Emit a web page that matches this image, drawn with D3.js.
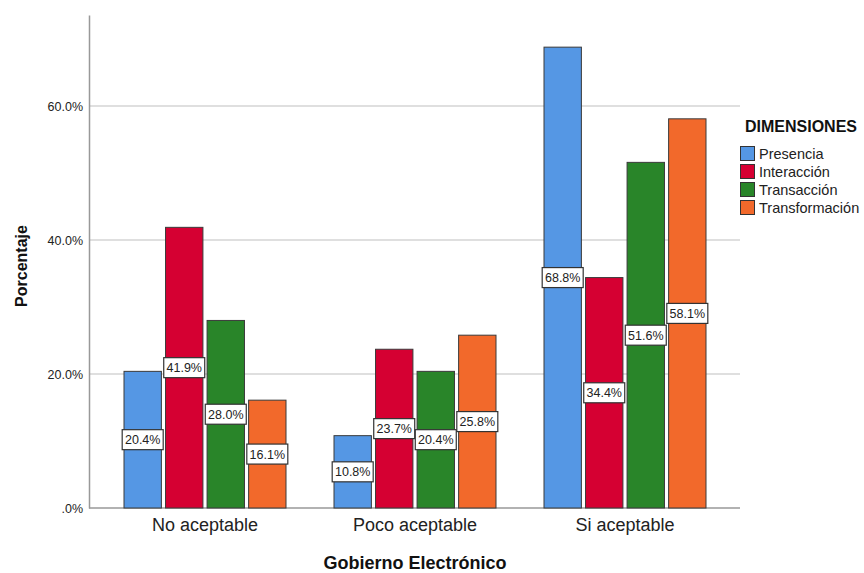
<!DOCTYPE html>
<html>
<head>
<meta charset="utf-8">
<script src="https://cdn.jsdelivr.net/npm/d3@7"></script>
<style>
  html, body { margin: 0; padding: 0; background: #fff; }
  svg { display: block; font-family: Arial, "Liberation Sans", sans-serif; }
</style>
</head>
<body>
<svg id="chart" width="864" height="573"></svg>
<script>
// Categories on the x axis
const categories = ["No aceptable", "Poco aceptable", "Si aceptable"];
// Series (legend entries)
const seriesNames = ["Presencia", "Interacción", "Transacción", "Transformación"];
// Percent values per series, in category order
const presencia      = [20.4, 10.8, 68.8];
const interaccion    = [41.9, 23.7, 34.4];
const transaccion    = [28.0, 20.4, 51.6];
const transformacion = [16.1, 25.8, 58.1];
const seriesValues = [presencia, interaccion, transaccion, transformacion];
// Y tick values
const yTicks = [0, 20, 40, 60];
const colors = ["#5597E4", "#D50032", "#298529", "#F2692B"];

const svg = d3.select("#chart");

const x0 = d3.scaleBand().domain(categories).range([100, 730]).paddingInner(0).paddingOuter(0);
const x1 = d3.scaleBand().domain(seriesNames).range([24, 186]).paddingInner(0.1).paddingOuter(0);
const y = d3.scaleLinear().domain([0, 73.6]).range([508, 15]);

// gridlines
svg.append("g")
  .selectAll("line")
  .data(yTicks.filter(d => d > 0))
  .join("line")
  .attr("x1", 89).attr("x2", 740)
  .attr("y1", d => y(d)).attr("y2", d => y(d))
  .attr("stroke", "#d4d4d4").attr("stroke-width", 1.5);

// y axis
const yAxis = d3.axisLeft(y).tickValues(yTicks).tickSize(0).tickPadding(6)
  .tickFormat(d => d === 0 ? ".0%" : d3.format(".1f")(d) + "%");
const gy = svg.append("g").attr("transform", "translate(89,0)").call(yAxis);
gy.select(".domain").attr("stroke", "#999").attr("stroke-width", 1.5);
gy.selectAll("text").attr("font-size", 12.5).attr("fill", "#222")
  .attr("font-family", "Arial, 'Liberation Sans', sans-serif");

// x axis baseline
svg.append("line").attr("x1", 89).attr("x2", 740).attr("y1", y(0)).attr("y2", y(0))
  .attr("stroke", "#999").attr("stroke-width", 1.5);

const xAxis = d3.axisBottom(x0).tickSize(0).tickPadding(10);
const gx = svg.append("g").attr("transform", `translate(0,${y(0)})`).call(xAxis);
gx.select(".domain").remove();
gx.selectAll("text").attr("font-size", 18).attr("fill", "#222")
  .attr("font-family", "Arial, 'Liberation Sans', sans-serif");

// bars
const groups = svg.append("g").selectAll("g")
  .data(categories)
  .join("g")
  .attr("transform", d => `translate(${x0(d)},0)`);

groups.selectAll("rect")
  .data((c, i) => seriesNames.map((s, j) => ({ s, j, v: seriesValues[j][i] })))
  .join("rect")
  .attr("x", d => x1(d.s))
  .attr("width", x1.bandwidth())
  .attr("y", d => y(d.v))
  .attr("height", d => y(0) - y(d.v))
  .attr("fill", d => colors[d.j])
  .attr("stroke", "#3a3a3a").attr("stroke-width", 1);

// value labels
const lbl = groups.selectAll("g.lbl")
  .data((c, i) => seriesNames.map((s, j) => ({ s, j, v: seriesValues[j][i] })))
  .join("g").attr("class", "lbl")
  .attr("transform", d => `translate(${x1(d.s) + x1.bandwidth() / 2},${y(d.v / 2)})`);
lbl.append("rect")
  .attr("x", -20.5).attr("y", -10).attr("width", 41).attr("height", 20)
  .attr("fill", "#fff").attr("stroke", "#333").attr("stroke-width", 1.2);
lbl.append("text")
  .attr("text-anchor", "middle").attr("dy", "0.36em")
  .attr("font-size", 12.5).attr("fill", "#222")
  .text(d => d3.format(".1f")(d.v) + "%");

// axis titles
svg.append("text")
  .attr("transform", "translate(27,266) rotate(-90)")
  .attr("text-anchor", "middle")
  .attr("font-size", 16).attr("font-weight", "bold").attr("fill", "#111")
  .text("Porcentaje");
svg.append("text")
  .attr("x", 415).attr("y", 569)
  .attr("text-anchor", "middle")
  .attr("font-size", 18).attr("font-weight", "bold").attr("fill", "#111")
  .text("Gobierno Electrónico");

// legend
const legend = svg.append("g").attr("transform", "translate(740,0)");
legend.append("text").attr("x", 5).attr("y", 132)
  .attr("font-size", 16).attr("font-weight", "bold").attr("fill", "#111")
  .text("DIMENSIONES");
const li = legend.selectAll("g.item").data(seriesNames).join("g").attr("class", "item")
  .attr("transform", (d, i) => `translate(0,${146 + i * 18})`);
li.append("rect").attr("x", 0.5).attr("y", 0.5).attr("width", 14).attr("height", 14)
  .attr("fill", (d, i) => colors[i]).attr("stroke", "#333").attr("stroke-width", 1);
li.append("text").attr("x", 19).attr("y", 12.5)
  .attr("font-size", 14.5).attr("fill", "#222")
  .text(d => d);
</script>
</body>
</html>
